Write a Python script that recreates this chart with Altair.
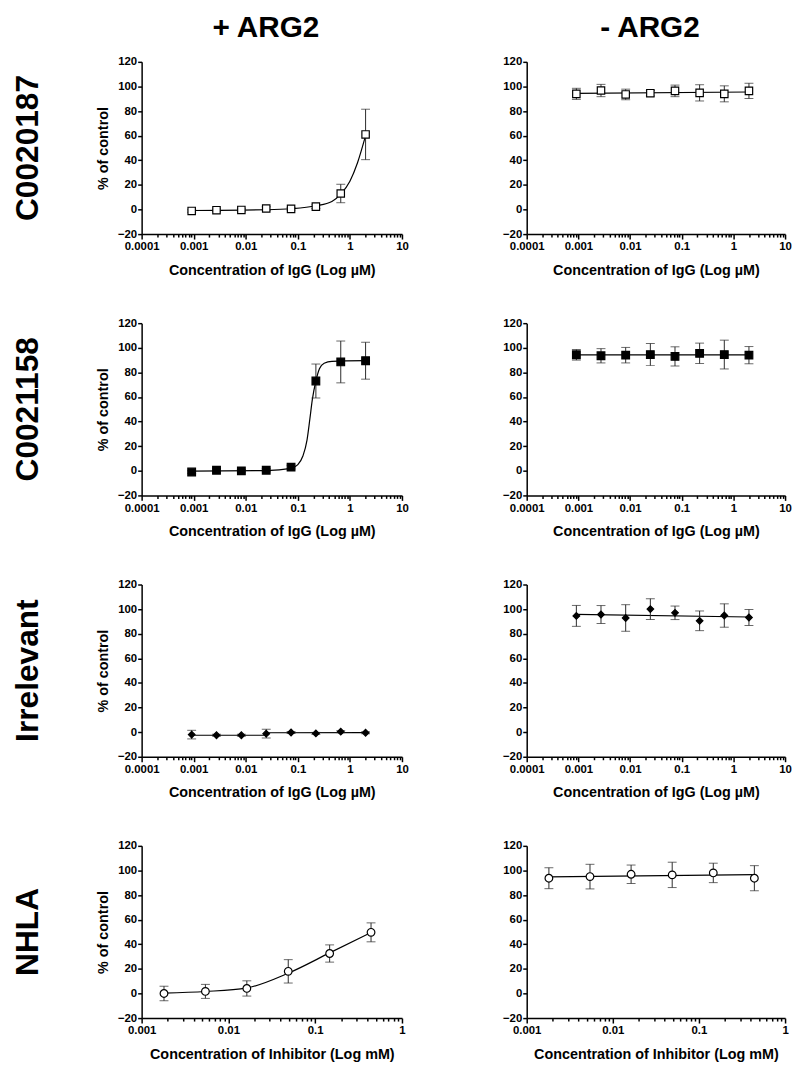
import altair as alt
import pandas as pd

FONT = "Liberation Sans"

# ---------------- data ----------------
x_igg = [0.000914, 0.00274, 0.00823, 0.0247, 0.0741, 0.222, 0.667, 2.0]
x_nhla = [0.00181, 0.00543, 0.0163, 0.0489, 0.1467, 0.44]

# C0020187, + ARG2
c87_pos_y = [-1.2, -0.6, -0.4, 0.8, 0.5, 2.3, 13.0, 61.0]
c87_pos_sd = [1.0, 1.0, 1.0, 1.5, 1.0, 1.5, 7.5, 20.5]
c87_pos_cx = [0.000914, 0.0247, 0.0741, 0.222, 0.45, 0.667, 1.0, 1.4, 2.0]
c87_pos_cy = [-0.8, -0.2, 0.6, 3.0, 6.5, 12.5, 23.0, 38.0, 60.0]
# C0020187, - ARG2
c87_neg_y = [94.0, 96.7, 93.5, 94.5, 96.4, 94.8, 94.0, 96.4]
c87_neg_sd = [4.5, 5.0, 4.3, 2.2, 4.7, 6.6, 6.5, 6.2]
c87_neg_cx = [0.000914, 2.0]
c87_neg_cy = [94.3, 95.5]

# C0021158, + ARG2
c58_pos_y = [-1.0, 0.5, 0.0, 0.5, 3.0, 73.0, 88.5, 89.5]
c58_pos_sd = [1.0, 1.5, 1.0, 1.2, 1.5, 13.8, 17.0, 15.0]
c58_pos_cx = [0.000914, 0.0247, 0.0741, 0.1, 0.125, 0.15, 0.17, 0.19, 0.222, 0.26, 0.32, 0.45, 2.0]
c58_pos_cy = [-0.2, 0.2, 2.0, 5.0, 12.0, 25.0, 42.0, 58.0, 73.0, 83.0, 87.5, 89.0, 89.5]
# C0021158, - ARG2
c58_neg_y = [94.3, 93.5, 94.0, 94.5, 93.0, 95.5, 94.5, 94.0]
c58_neg_sd = [4.3, 5.8, 6.3, 9.0, 7.8, 8.3, 11.7, 7.0]
c58_neg_cx = [0.000914, 2.0]
c58_neg_cy = [94.3, 94.3]

# Irrelevant, + ARG2
irr_pos_y = [-2.0, -2.5, -2.5, -1.2, -0.3, -1.0, 0.4, -0.5]
irr_pos_sd = [3.5, 0.8, 0.8, 3.5, 0.8, 0.8, 0.8, 0.8]
irr_pos_cx = [0.000914, 0.024, 0.026, 2.0]
irr_pos_cy = [-2.5, -2.5, -0.5, -0.4]
# Irrelevant, - ARG2
irr_neg_y = [94.5, 95.6, 92.8, 100.0, 97.0, 90.5, 94.8, 93.2]
irr_neg_sd = [8.5, 7.3, 10.8, 8.5, 5.5, 8.0, 9.5, 6.5]
irr_neg_cx = [0.000914, 2.0]
irr_neg_cy = [95.8, 93.6]

# NHLA, + ARG2
nh_pos_y = [0.0, 1.7, 4.1, 18.0, 32.5, 49.7]
nh_pos_sd = [5.9, 5.7, 6.2, 9.5, 7.0, 7.7]
nh_pos_cx = [0.00181, 0.00543, 0.0163, 0.0489, 0.1467, 0.44]
nh_pos_cy = [0.3, 1.6, 4.5, 16.5, 33.0, 49.5]
# NHLA, - ARG2
nh_neg_y = [93.7, 95.0, 96.9, 96.4, 98.0, 93.7]
nh_neg_sd = [8.5, 10.0, 7.5, 10.3, 7.9, 10.2]
nh_neg_cx = [0.00181, 0.44]
nh_neg_cy = [94.8, 96.6]

y_ticks = [-20, 0, 20, 40, 60, 80, 100, 120]
ticks_igg = [k * 10.0 ** d for d in range(-4, 1) for k in range(1, 10)] + [10.0]
ticks_nhla = [k * 10.0 ** d for d in range(-3, 0) for k in range(1, 10)] + [1.0]

col_headers = ["+ ARG2", "- ARG2"]
row_labels = ["C0020187", "C0021158", "Irrelevant", "NHLA"]
xtitle_igg = "Concentration of IgG (Log \u00b5M)"
xtitle_nhla = "Concentration of Inhibitor (Log mM)"

MAJOR = "abs(log(datum.value)/LN10 - round(log(datum.value)/LN10)) < 0.001"
H = 174
W_LEFT = 263
W_RIGHT = 261


def panel(xs, ys, sds, cx, cy, shape, fill, msize, xdom, xticks, xtitle,
          left, header=None, rowlabel=None, label_dy=0):
    width = W_LEFT if left else W_RIGHT
    pts = pd.DataFrame({
        "x": xs, "y": ys,
        "lo": [a - b for a, b in zip(ys, sds)],
        "hi": [a + b for a, b in zip(ys, sds)],
    })
    cur = pd.DataFrame({"x": cx, "y": cy})
    xscale = alt.Scale(type="log", domain=xdom, nice=False)
    yscale = alt.Scale(domain=[-20, 120], nice=False, zero=False)
    xaxis = alt.Axis(
        values=xticks, title=xtitle, labelExpr=MAJOR + " ? format(datum.value, '~g') : ''",
        tickSize={"condition": {"test": MAJOR, "value": 5}, "value": 3},
        labelOverlap=False, labelFlush=False, labelPadding=2, titlePadding=11,
    )
    yaxis = alt.Axis(
        values=y_ticks, title="% of control" if left else "", tickSize=4,
        labelPadding=1, titlePadding=7,
    )
    X = alt.X("x:Q", scale=xscale, axis=xaxis)

    line = alt.Chart(cur).mark_line(color="black", strokeWidth=1.2, interpolate="monotone").encode(
        x=X, y=alt.Y("y:Q", scale=yscale, axis=yaxis))
    bars = alt.Chart(pts).mark_rule(color="#2a2a2a", strokeWidth=1).encode(
        x=X, y=alt.Y("lo:Q", scale=yscale, axis=yaxis), y2="hi:Q")
    cap_lo = alt.Chart(pts).mark_tick(orient="horizontal", size=9, thickness=1, color="#2a2a2a").encode(
        x=X, y=alt.Y("lo:Q", scale=yscale, axis=yaxis))
    cap_hi = alt.Chart(pts).mark_tick(orient="horizontal", size=9, thickness=1, color="#2a2a2a").encode(
        x=X, y=alt.Y("hi:Q", scale=yscale, axis=yaxis))
    marks = alt.Chart(pts).mark_point(
        shape=shape, filled=True, fill=fill, stroke="black", strokeWidth=1.2,
        size=msize, opacity=1).encode(x=X, y=alt.Y("y:Q", scale=yscale, axis=yaxis))
    layers = [line, bars, cap_lo, cap_hi, marks]
    if header is not None:
        layers.append(
            alt.Chart(pd.DataFrame({"t": [header]})).mark_text(
                font=FONT, fontSize=30, fontWeight="bold", color="black",
                align="center", baseline="middle").encode(
                text="t:N", x=alt.value(width / 2 - 6), y=alt.value(-34)))
    if rowlabel is not None:
        layers.append(
            alt.Chart(pd.DataFrame({"t": [rowlabel]})).mark_text(
                font=FONT, fontSize=32, fontWeight="bold", color="black", angle=270,
                align="center", baseline="middle").encode(
                text="t:N", x=alt.value(-115), y=alt.value(H / 2 + label_dy)))
    return alt.layer(*layers).properties(width=width, height=H)


dom_igg = [0.0001, 10]
dom_nhla = [0.001, 1]

panels = [
    panel(x_igg, c87_pos_y, c87_pos_sd, c87_pos_cx, c87_pos_cy, "square", "white", 56,
          dom_igg, ticks_igg, xtitle_igg, True, header=col_headers[0], rowlabel=row_labels[0]),
    panel(x_igg, c87_neg_y, c87_neg_sd, c87_neg_cx, c87_neg_cy, "square", "white", 56,
          dom_igg, ticks_igg, xtitle_igg, False, header=col_headers[1]),
    panel(x_igg, c58_pos_y, c58_pos_sd, c58_pos_cx, c58_pos_cy, "square", "black", 60,
          dom_igg, ticks_igg, xtitle_igg, True, rowlabel=row_labels[1]),
    panel(x_igg, c58_neg_y, c58_neg_sd, c58_neg_cx, c58_neg_cy, "square", "black", 60,
          dom_igg, ticks_igg, xtitle_igg, False),
    panel(x_igg, irr_pos_y, irr_pos_sd, irr_pos_cx, irr_pos_cy, "diamond", "black", 45,
          dom_igg, ticks_igg, xtitle_igg, True, rowlabel=row_labels[2]),
    panel(x_igg, irr_neg_y, irr_neg_sd, irr_neg_cx, irr_neg_cy, "diamond", "black", 45,
          dom_igg, ticks_igg, xtitle_igg, False),
    panel(x_nhla, nh_pos_y, nh_pos_sd, nh_pos_cx, nh_pos_cy, "circle", "white", 60,
          dom_nhla, ticks_nhla, xtitle_nhla, True, rowlabel=row_labels[3]),
    panel(x_nhla, nh_neg_y, nh_neg_sd, nh_neg_cx, nh_neg_cy, "circle", "white", 60,
          dom_nhla, ticks_nhla, xtitle_nhla, False),
]

chart = alt.concat(
    *panels, columns=2, spacing={"row": 90, "column": 126}, bounds="flush"
).properties(
    padding={"left": 4, "top": 0, "right": 0, "bottom": 0}
).configure_view(
    stroke=None
).configure_axis(
    grid=False,
    domainColor="black", domainWidth=1.5,
    tickColor="black", tickWidth=1.5,
    labelFont=FONT, labelFontWeight="bold", labelFontSize=11.5, labelColor="black",
    titleFont=FONT, titleFontWeight="bold", titleFontSize=14.5, titleColor="black",
)

chart.save("out.html", embed_options={"renderer": "svg", "actions": False})
